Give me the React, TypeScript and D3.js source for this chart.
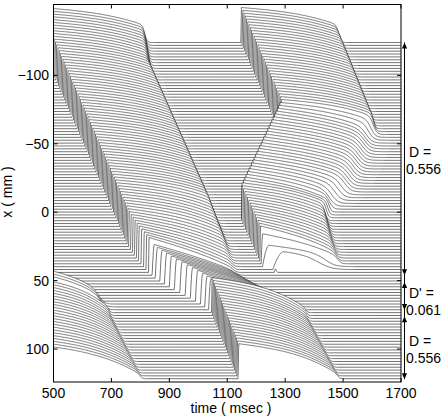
import React, { useMemo } from 'react';
import * as d3 from 'd3';

// ---------- axis data ----------
const timeTicks = [500, 700, 900, 1100, 1300, 1500, 1700];
const posTicks = [-100, -50, 0, 50, 100];
const timeDomain = [500, 1700];
const posDomain = [-151.8, 124.1];

// positions of the recorded traces along the cable (mm)
const tracePositions = d3.range(118).map((i) => -124 + 2.1 * i);

// region boundaries (mm) and labels
const regionStart = [-124, 51, 76];
const regionEnd = [46, 71.5, 122];
const regionName = ['D =', "D' =", 'D ='];
const regionValue = ['0.556', '0.061', '0.556'];

// ---------- upper segment, first wave ----------
const up1ActX = [-124, -101, 24.6, 30, 36, 40, 45];
const up1ActT = [453, 500, 758, 775, 795, 812, 832];
const up1RepX = [-124, -101, 5, 25, 45];
const up1RepT = [828, 845, 1066, 1110, 1148];
const up1ShapeX = [-124, 0, 20, 35, 45];
const up1A = [0.25, 0.25, 0.35, 0.6, 0.8];
const up1B = [0.3, 0.3, 0.4, 0.3, 0.2];
const up1W = [25, 25, 28, 35, 40];

// ---------- upper segment, second wave ----------
const up2ActX = [-124, -57, 5, 40, 42, 44];
const up2ActT = [1147, 1285, 1147, 1222, 1259, 1262];
const up2RepX = [-124, -57, -45, -30, -15, 0, 6, 25, 38, 42, 44];
const up2RepT = [1497, 1625, 1610, 1580, 1545, 1465, 1452, 1480, 1505, 1500, 1275];
const up2PeakX = [-124, 36, 38, 40, 42, 44];
const up2Peak = [0.95, 0.95, 0.8, 0.58, 0.52, 0.12];
const up2WX = [-124, -60, -50, -5, 0, 38, 40, 42, 44];
const up2W = [25, 25, 70, 70, 25, 40, 120, 150, 10];
const up2AX = [-124, -57, -50, 0, 5, 25, 37, 40, 44];
const up2A = [0.25, 0.25, 0.4, 0.4, 0.3, 0.45, 0.6, 0.45, 0.45];
const up2RiseX = [36, 38, 40, 42, 44];
const up2Rise = [2, 6, 25, 40, 4];

// ---------- low-coupling gap ----------
const gap0RepX = [66, 74];
const gap0RepT = [690, 705];
const gap1ActX = [46, 48, 52, 56, 60, 64, 68, 72, 74];
const gap1ActT = [840, 850, 880, 912, 948, 982, 1015, 1040, 1047];
const gap1RepX = [46, 50, 56, 60, 66, 72, 74];
const gap1RepT = [1160, 1190, 1240, 1280, 1330, 1380, 1390];

// ---------- lower segment ----------
const low0RepX = [73, 80, 122];
const low0RepT = [705, 715, 815];
const low1ActX = [73, 122];
const low1ActT = [1045, 1138];
const low1RepX = [73, 80, 122];
const low1RepT = [1385, 1392, 1497];

const AMP = 27; // AP amplitude in mm units of the offset axis

type Ev = { act: number; rep: number; peak: number; a: number; b: number; w: number; rise: number };

const pw = (xs: number[], ys: number[]) =>
  d3.scaleLinear().domain(xs).range(ys).clamp(true);

function ap(t: number, e: Ev) {
  const tau = t - e.act;
  if (tau < 0) return 0;
  const apd = e.rep - e.act;
  const u = Math.min(tau / apd, 1.5);
  const r = Math.min(tau / e.rise, 1);
  const rise = e.rise > 4 ? Math.sin((r * Math.PI) / 2) : r;
  const plat = Math.max(0, 1 - e.a * u - e.b * u * u * u);
  const s = 1 / (1 + Math.exp((tau - (apd - e.w / 2)) / (e.w / 6)));
  return e.peak * rise * plat * s;
}

function eventsFor(x: number): Ev[] {
  const evs: Ev[] = [];
  if (x <= 45) {
    evs.push({
      act: pw(up1ActX, up1ActT)(x),
      rep: pw(up1RepX, up1RepT)(x),
      peak: 0.95,
      a: pw(up1ShapeX, up1A)(x),
      b: pw(up1ShapeX, up1B)(x),
      w: pw(up1ShapeX, up1W)(x),
      rise: 2,
    });
    evs.push({
      act: pw(up2ActX, up2ActT)(x),
      rep: pw(up2RepX, up2RepT)(x),
      peak: pw(up2PeakX, up2Peak)(x),
      a: pw(up2AX, up2A)(x),
      b: 0.3,
      w: pw(up2WX, up2W)(x),
      rise: pw(up2RiseX, up2Rise)(x),
    });
  } else if (x < 73) {
    if (x >= 66) {
      evs.push({ act: 440, rep: pw(gap0RepX, gap0RepT)(x), peak: 1.0, a: 0.45, b: 0.4, w: 60, rise: 2 });
    }
    evs.push({
      act: pw(gap1ActX, gap1ActT)(x),
      rep: pw(gap1RepX, gap1RepT)(x),
      peak: 0.85,
      a: 0.85,
      b: 0.15,
      w: 60,
      rise: 8,
    });
  } else {
    evs.push({ act: 440, rep: pw(low0RepX, low0RepT)(x), peak: 0.92, a: 0.4, b: 0.55, w: 25, rise: 2 });
    evs.push({
      act: pw(low1ActX, low1ActT)(x),
      rep: pw(low1RepX, low1RepT)(x),
      peak: 0.95,
      a: 0.4,
      b: 0.55,
      w: 25,
      rise: 2,
    });
  }
  return evs;
}

const L = 53.5, R = 401, T = 4.5, B = 382;
const FONT = "'Liberation Sans', Arial, Helvetica, sans-serif";

export default function App() {
  const tScale = d3.scaleLinear().domain(timeDomain).range([L, R]);
  const yScale = d3.scaleLinear().domain(posDomain).range([T, B]);

  const traces = useMemo(() => {
    const times = d3.range(timeDomain[0], timeDomain[1] + 0.5, 1);
    return tracePositions.map((x) => {
      const evs = eventsFor(x);
      const vals = times.map((t) => Math.max(0, ...evs.map((e) => ap(t, e))));
      const pts: [number, number][] = [];
      for (let i = 0; i < times.length; i++) {
        const keep =
          i === 0 || i === times.length - 1 ||
          vals[i] > 1e-4 || vals[i - 1] > 1e-4 || vals[i + 1] > 1e-4;
        if (keep) pts.push([times[i], vals[i]]);
      }
      const line = d3
        .line<[number, number]>()
        .x((d) => tScale(d[0]))
        .y((d) => yScale(x - d[1] * AMP));
      const area = d3
        .area<[number, number]>()
        .x((d) => tScale(d[0]))
        .y0(yScale(x) + 0.3)
        .y1((d) => yScale(x - d[1] * AMP));
      return { x, line: line(pts) || '', area: area(pts) || '' };
    });
  }, []);

  const arrowX = 404.5;

  return (
    <svg
      width={448}
      height={417}
      style={{ position: 'absolute', left: 0, top: 0, background: '#fff' }}
      fontFamily={FONT}
    >
      <rect x={0} y={0} width={448} height={417} fill="#fff" />
      <defs>
        <clipPath id="plotclip">
          <rect x={L} y={T} width={R - L} height={B - T} />
        </clipPath>
      </defs>
      <g clipPath="url(#plotclip)">
        {traces.map((tr, i) => (
          <g key={i}>
            <path d={tr.area} fill="#fff" stroke="none" />
            <path d={tr.line} fill="none" stroke="#000" strokeWidth={0.55} />
          </g>
        ))}
      </g>
      {/* frame */}
      <rect x={L} y={T} width={R - L} height={B - T} fill="none" stroke="#000" strokeWidth={1} />
      {/* time ticks */}
      {timeTicks.map((t) => (
        <g key={t}>
          <line x1={tScale(t)} x2={tScale(t)} y1={B} y2={B - 4} stroke="#000" />
          <line x1={tScale(t)} x2={tScale(t)} y1={T} y2={T + 4} stroke="#000" />
          <text x={tScale(t)} y={398} fontSize={14} textAnchor="middle">
            {t}
          </text>
        </g>
      ))}
      {posTicks.map((p) => (
        <g key={p}>
          <line x1={L} x2={L + 4} y1={yScale(p)} y2={yScale(p)} stroke="#000" />
          <line x1={R} x2={R - 4} y1={yScale(p)} y2={yScale(p)} stroke="#000" />
          <text x={49} y={yScale(p) + 5} fontSize={14} textAnchor="end">
            {p < 0 ? `\u2212${Math.abs(p)}` : p}
          </text>
        </g>
      ))}
      <text x={231} y={413} fontSize={14} textAnchor="middle">
        time ( msec )
      </text>
      <text
        transform={`translate(12, 192) rotate(-90)`}
        fontSize={14}
        textAnchor="middle"
      >
        x ( mm )
      </text>
      {/* region arrows */}
      <line
        x1={arrowX}
        x2={arrowX}
        y1={yScale(regionStart[0])}
        y2={yScale(regionEnd[regionEnd.length - 1])}
        stroke="#000"
        strokeWidth={1}
      />
      {regionStart.map((s, i) => {
        const y0 = yScale(s);
        const y1 = yScale(regionEnd[i]);
        const mid = (y0 + y1) / 2 + (y1 - y0 < 40 ? 4 : 0);
        return (
          <g key={i}>
            <path d={`M${arrowX},${y0} l-2.6,6 l5.2,0 z`} fill="#000" />
            <path d={`M${arrowX},${y1} l-2.6,-6 l5.2,0 z`} fill="#000" />
            <text x={409} y={mid - 2} fontSize={14}>
              {regionName[i]}
            </text>
            <text x={406} y={mid + 15} fontSize={14}>
              {regionValue[i]}
            </text>
          </g>
        );
      })}
    </svg>
  );
}
